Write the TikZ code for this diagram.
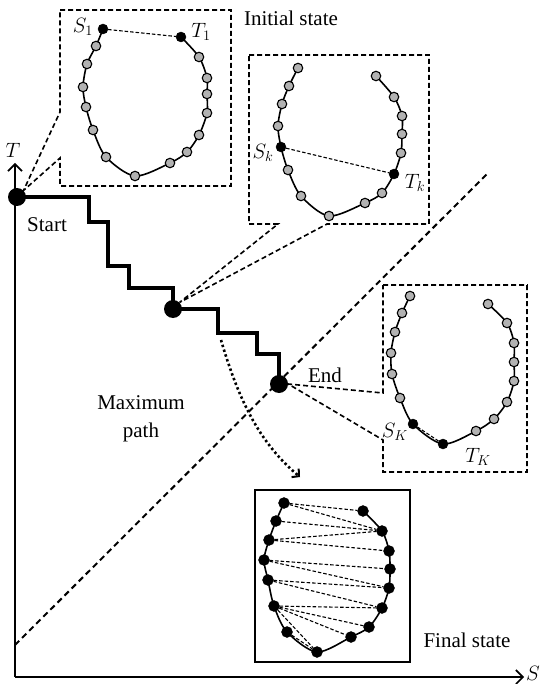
\documentclass[tikz,border=0pt]{standalone}
\usepackage{fontspec}
\setmainfont{Liberation Serif}
\usetikzlibrary{arrows.meta,backgrounds}

\begin{document}
\begin{tikzpicture}[
    x=1pt, y=-1pt,
    every node/.style={font=\fontsize{21}{28}\selectfont, inner sep=1pt},
    graydot/.style={circle, draw=black, fill=gray!60, line width=1.1pt, inner sep=0pt, minimum size=9.5pt},
    blackdot/.style={circle, draw=black, fill=black, inner sep=0pt, minimum size=10pt},
    pathdot/.style={circle, fill=black, inner sep=0pt, minimum size=18pt},
    ring/.style={line width=1.6pt},
    matchline/.style={line width=1.1pt, dash pattern=on 3.5pt off 2pt},
    calloutbox/.style={line width=1.6pt, dash pattern=on 5pt off 3pt},
    stairline/.style={line width=4.5pt},
    axisline/.style={line width=1.8pt, -{Straight Barb[length=7pt, width=14pt, line width=1.6pt]}},
    diagline/.style={line width=2pt, dash pattern=on 6pt off 4pt},
    jumpline/.style={line width=2.6pt, dash pattern=on 2.4pt off 2.6pt, -{Straight Barb[length=5pt, width=11pt, line width=2pt]}}
]
\useasboundingbox (0,0) rectangle (542,684);

% Axes and diagonal
\coordinate (O) at (15,677);
\coordinate (diagA) at (15,645);
\coordinate (diagB) at (487,174);
\node (tlabel) at (13,150) {$T$};
\node[inner sep=0pt] (slabel) at (533,673) {$S$};
\draw[axisline] (O) -- (15,163);
\draw[axisline] (O) -- (524,677);
\draw[diagline] (diagA) -- (diagB);

% Maximum path (staircase)
\node[pathdot] (start) at (17,197) {};
\node[pathdot] (mid) at (173,309) {};
\node[pathdot] (end) at (279,384) {};
\draw[stairline] (start.center) -| (89,222) -| (108,266) -| (129,288) -| (mid.center)
    -| (218,333) -| (257,354) -| (end.center);
\node (startlabel) at (47,225) {Start};
\node (endlabel) at (325,375) {End};
\node[align=center] (maxlabel) at (141,419) {Maximum\\path};

% Jump to the final state
\coordinate (jump) at (221,340);
\draw[jumpline] (jump) .. controls (240,405) and (262,445) .. (300,477);

% Initial state
\draw[calloutbox] (60,10) -- (231,10) -- (231,186) -- (60,186) -- (60,158)
    -- (start.45) -- (60,112) -- cycle;
\node (initlabel) at (291,18) {Initial state};
\foreach \x/\y/\s [count=\i] in {103/29/blackdot, 96/46/graydot, 87/64/graydot, 83/87/graydot,
    86/107/graydot, 93/130/graydot, 106/157/graydot, 135/176/graydot, 170/163/graydot,
    187/152/graydot, 199/135/graydot, 207/113/graydot, 207/94/graydot, 207/78/graydot,
    199/57/graydot, 181/37/blackdot}
  \node[\s] (a\i) at (\x,\y) {};
\begin{scope}[on background layer]
  \draw[ring] plot[smooth] coordinates {(a1) (a2) (a3) (a4) (a5) (a6) (a7) (a8)
      (a9) (a10) (a11) (a12) (a13) (a14) (a15) (a16)};
  \draw[matchline] (a1) -- (a16);
\end{scope}
\node (s1) at (83,27) {$S_1$};
\node (t1) at (201,32) {$T_1$};

% Intermediate state k
\draw[calloutbox] (249,55) -- (429,55) -- (429,224) -- (327,224) -- (mid.45)
    -- (278,224) -- (249,224) -- cycle;
\foreach \x/\y/\s [count=\i] in {298/68/graydot, 289/86/graydot, 282/104/graydot, 278/126/graydot,
    281/147/blackdot, 288/170/graydot, 301/196/graydot, 329/216/graydot, 365/203/graydot,
    382/193/graydot, 394/174/blackdot, 401/153/graydot, 402/134/graydot, 402/116/graydot,
    394/97/graydot, 376/76/graydot}
  \node[\s] (b\i) at (\x,\y) {};
\begin{scope}[on background layer]
  \draw[ring] plot[smooth] coordinates {(b1) (b2) (b3) (b4) (b5) (b6) (b7) (b8)
      (b9) (b10) (b11) (b12) (b13) (b14) (b15) (b16)};
  \draw[matchline] (b5) -- (b11);
\end{scope}
\node (sk) at (263,153) {$S_k$};
\node (tk) at (415,183) {$T_k$};

% Last state K
\draw[calloutbox] (383,285) -- (527,285) -- (527,472) -- (383,472) -- (383,440)
    -- (end.east) -- (383,393) -- cycle;
\foreach \x/\y/\s [count=\i] in {410/296/graydot, 402/313/graydot, 395/332/graydot, 391/353/graydot,
    392/374/graydot, 400/398/graydot, 413/424/blackdot, 443/444/blackdot, 476/431/graydot,
    494/419/graydot, 507/402/graydot, 514/381/graydot, 514/362/graydot, 514/343/graydot,
    507/323/graydot, 488/304/graydot}
  \node[\s] (c\i) at (\x,\y) {};
\begin{scope}[on background layer]
  \draw[ring] plot[smooth] coordinates {(c1) (c2) (c3) (c4) (c5) (c6) (c7) (c8)
      (c9) (c10) (c11) (c12) (c13) (c14) (c15) (c16)};
  \draw[matchline] (c7) -- (c8);
\end{scope}
\node (sK) at (395,432) {$S_K$};
\node (tK) at (478,457) {$T_K$};

% Final state with all matches
\draw[line width=2.5pt] (255,490) rectangle (410,662);
\node (finallabel) at (467,640) {Final state};
\foreach \x/\y [count=\i] in {284/503, 276/521, 269/540, 264/560, 268/580, 274/606, 287/632,
    317/652, 351/637, 369/627, 382/608, 389/588, 390/569, 389/551, 382/531, 363/511}
  \node[blackdot, minimum size=11pt] (d\i) at (\x,\y) {};
\begin{scope}[on background layer]
  \draw[ring] plot[smooth] coordinates {(d1) (d2) (d3) (d4) (d5) (d6) (d7) (d8)
      (d9) (d10) (d11) (d12) (d13) (d14) (d15) (d16)};
  \foreach \l/\r in {1/16, 1/15, 2/15, 3/15, 3/14, 4/13, 4/12, 5/12, 5/11, 6/11, 6/10, 6/9, 6/8, 7/8}
    \draw[matchline] (d\l) -- (d\r);
\end{scope}

\end{tikzpicture}
\end{document}
